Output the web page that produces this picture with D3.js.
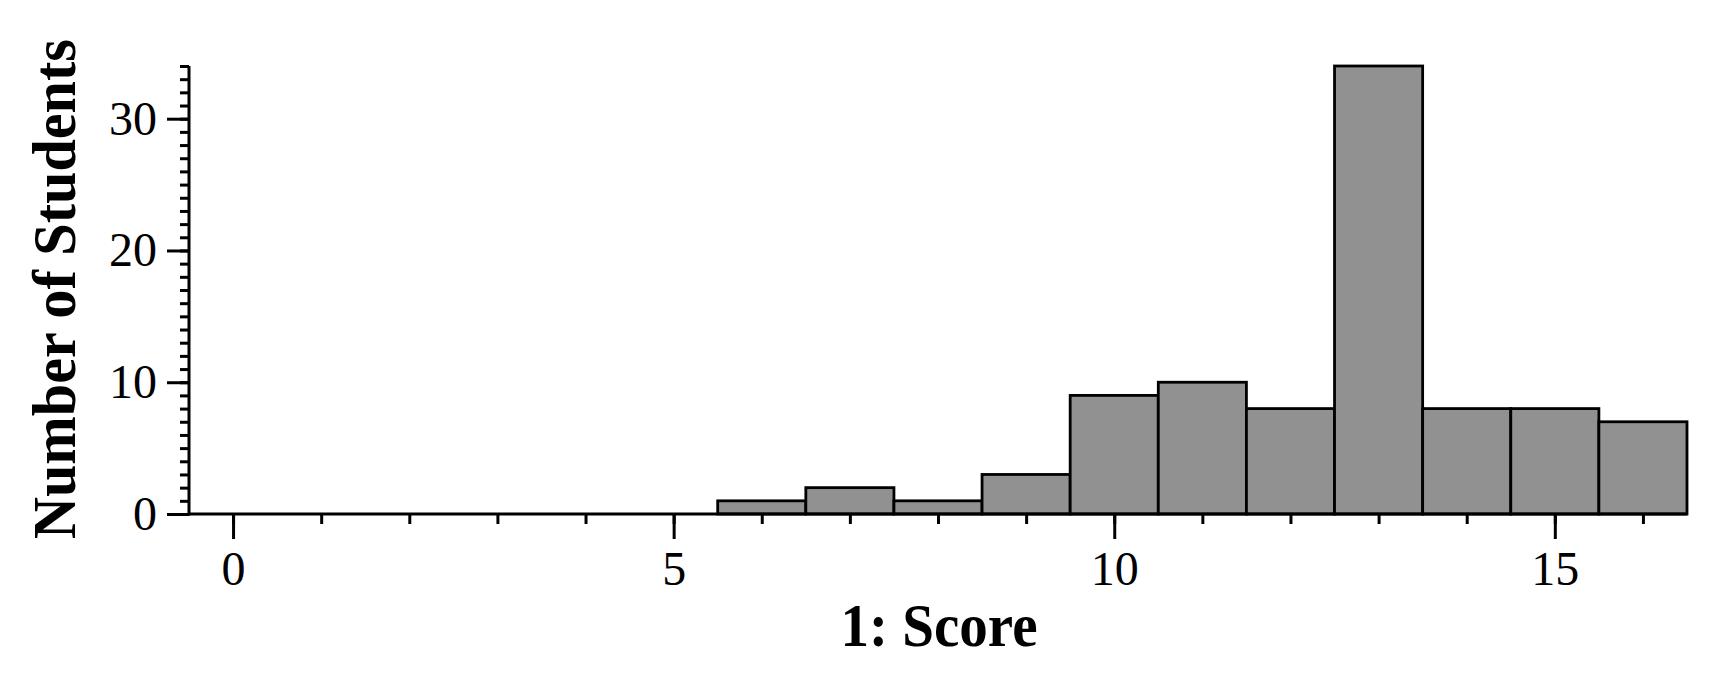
<!DOCTYPE html>
<html><head><meta charset="utf-8">
<script src="https://cdn.jsdelivr.net/npm/d3@7"></script>
<style>body{margin:0;background:#fff}svg{display:block}</style>
</head><body>
<script>
const scores = [0,1,2,3,4,5,6,7,8,9,10,11,12,13,14,15,16];
const counts = [0,0,0,0,0,0,1,2,1,3,9,10,8,34,8,8,7];
const xMajorTicks = [0,5,10,15];
const yMajorTicks = [0,10,20,30];
const xTitle = "1: Score";
const yTitle = "Number of Students";

const W = 1733, H = 688;
const svg = d3.select("body").append("svg").attr("width", W).attr("height", H);
const x = d3.scaleLinear().domain([-0.5, 16.5]).range([189, 1687]);
const y = d3.scaleLinear().domain([0, 34]).range([514, 66]);
const font = "'Liberation Serif','Times New Roman',serif";

// bars
svg.append("g").selectAll("rect").data(scores.map((s,i)=>({s, c:counts[i]})).filter(d=>d.c>0))
  .join("rect")
  .attr("x", d=>x(d.s-0.5)).attr("width", d=>x(d.s+0.5)-x(d.s-0.5))
  .attr("y", d=>y(d.c)).attr("height", d=>y(0)-y(d.c))
  .attr("fill", "#919191").attr("stroke", "#000").attr("stroke-width", 2.8);

// x axis
const gx = svg.append("g").attr("transform", `translate(0,${y(0)})`);
gx.call(d3.axisBottom(x).tickValues(d3.range(0,17)).tickSize(10).tickFormat(""));
gx.append("g").call(d3.axisBottom(x).tickValues(xMajorTicks).tickSize(25).tickPadding(12).tickFormat(d3.format("d")));
gx.selectAll(".tick line").attr("stroke-width", 3);
gx.selectAll("text").attr("font-family", font).attr("font-size", 48).attr("fill","#000");

// y axis
const gy = svg.append("g").attr("transform", `translate(${x(-0.5)},0)`);
gy.call(d3.axisLeft(y).tickValues(d3.range(0,35)).tickSize(9).tickFormat(""));
gy.append("g").call(d3.axisLeft(y).tickValues(yMajorTicks).tickSize(22).tickPadding(10).tickFormat(d3.format("d")));
gy.selectAll(".tick line").attr("stroke-width", 3);
gy.selectAll("text").attr("font-family", font).attr("font-size", 48).attr("fill","#000");

// Replace domains with plain lines
svg.selectAll("path.domain").remove();
svg.append("line").attr("x1", x(-0.5)).attr("x2", x(16.5)).attr("y1", y(0)).attr("y2", y(0)).attr("stroke","#000").attr("stroke-width",3);
svg.append("line").attr("x1", x(-0.5)).attr("x2", x(-0.5)).attr("y1", y(0)+1.5).attr("y2", y(34)).attr("stroke","#000").attr("stroke-width",3);

// titles
svg.append("text").attr("x", 939).attr("y", 646).attr("text-anchor","middle")
  .attr("font-family", font).attr("font-weight","bold").attr("font-size", 61)
  .attr("textLength", 197).attr("lengthAdjust","spacingAndGlyphs").text(xTitle);
svg.append("text").attr("transform", "translate(75,289) rotate(-90)").attr("text-anchor","middle")
  .attr("font-family", font).attr("font-weight","bold").attr("font-size", 62)
  .attr("textLength", 500).attr("lengthAdjust","spacingAndGlyphs").text(yTitle);
</script>
</body></html>
